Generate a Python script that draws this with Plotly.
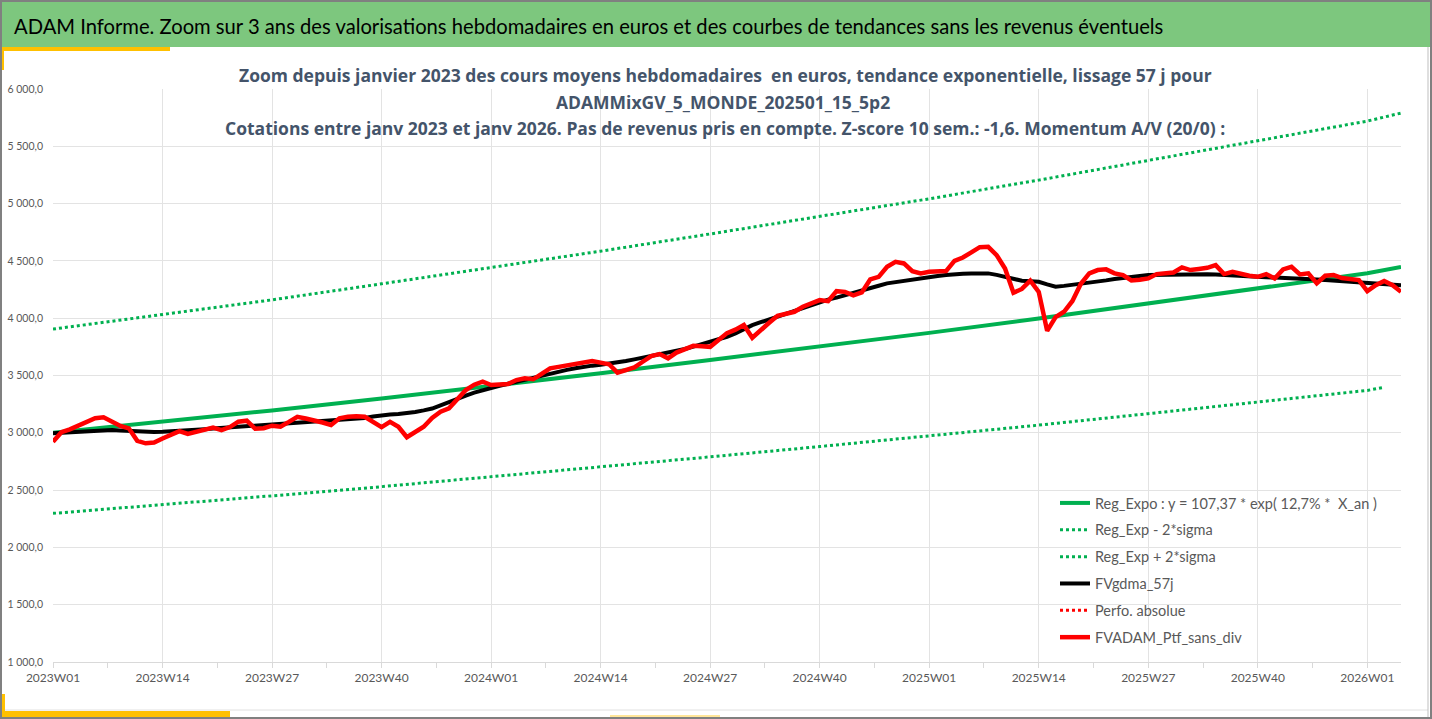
import plotly.graph_objects as go

# semaines 2023W01 .. 2026W05 (2023, 2024, 2025 ont 52 semaines ISO)
weeks = ([f"2023W{w:02d}" for w in range(1, 53)] + [f"2024W{w:02d}" for w in range(1, 53)]
         + [f"2025W{w:02d}" for w in range(1, 53)] + [f"2026W{w:02d}" for w in range(1, 6)])

ptf = [2922, 3005, 3030, 3060, 3095, 3127, 3135, 3095, 3060, 3039,
       2930, 2908, 2915, 2950, 2980, 3015, 2990, 3010, 3030, 3045,
       3024, 3050, 3097, 3106, 3035, 3040, 3062, 3053, 3095, 3140,
       3125, 3110, 3090, 3068, 3127, 3140, 3145, 3140, 3095, 3050,
       3095, 3053, 2961, 3010, 3053, 3130, 3184, 3214, 3300, 3373,
       3420, 3446, 3417, 3420, 3426, 3460, 3475, 3467, 3520, 3563,
       3575, 3590, 3600, 3615, 3627, 3612, 3598, 3525, 3548, 3571,
       3620, 3670, 3687, 3650, 3700, 3730, 3759, 3755, 3750, 3809,
       3870, 3900, 3940, 3829, 3900, 3960, 4021, 4040, 4056, 4100,
       4130, 4158, 4149, 4236, 4230, 4200, 4225, 4338, 4361, 4449,
       4492, 4478, 4410, 4391, 4405, 4408, 4411, 4500, 4530, 4575,
       4620, 4623, 4551, 4434, 4222, 4255, 4327, 4230, 3890, 4010,
       4056, 4150, 4300, 4391, 4420, 4426, 4391, 4376, 4330, 4335,
       4347, 4385, 4395, 4399, 4443, 4420, 4430, 4440, 4463, 4385,
       4405, 4385, 4370, 4361, 4385, 4347, 4426, 4449, 4382, 4391,
       4304, 4370, 4376, 4350, 4340, 4333, 4236, 4288, 4324, 4288,
       4230]

gdma = [2996, 3000, 3008, 3015, 3020, 3024, 3025, 3024, 3020, 3015,
        3010, 3008, 3008, 3010, 3013, 3017, 3022, 3027, 3032, 3037,
        3042, 3048, 3053, 3057, 3061, 3065, 3068, 3073, 3080, 3086,
        3091, 3095, 3098, 3102, 3108, 3115, 3122, 3130, 3142, 3155,
        3160, 3165, 3170, 3182, 3196, 3212, 3240, 3271, 3298, 3325,
        3350, 3373, 3392, 3410, 3428, 3446, 3465, 3483, 3501, 3519,
        3534, 3549, 3563, 3577, 3586, 3594, 3603, 3612, 3626, 3641,
        3655, 3670, 3685, 3700, 3716, 3731, 3752, 3773, 3794, 3815,
        3838, 3868, 3905, 3940, 3965, 3990, 4016, 4042, 4068, 4093,
        4119, 4144, 4162, 4180, 4199, 4217, 4239, 4261, 4283, 4304,
        4316, 4328, 4341, 4353, 4361, 4369, 4377, 4385, 4387, 4389,
        4391, 4391, 4378, 4361, 4344, 4327, 4322, 4318, 4295, 4275,
        4282, 4290, 4298, 4308, 4318, 4330, 4342, 4353, 4361, 4369,
        4376, 4378, 4380, 4383, 4385, 4385, 4384, 4383, 4382, 4377,
        4371, 4366, 4361, 4359, 4357, 4355, 4353, 4349, 4345, 4342,
        4338, 4333, 4328, 4323, 4318, 4315, 4311, 4308, 4304, 4296,
        4288]

# tendance lue tous les trimestres
trend_weeks = ["2023W01", "2023W14", "2023W27", "2023W40", "2024W01", "2024W14", "2024W27",
               "2024W40", "2025W01", "2025W14", "2025W27", "2025W40", "2026W01", "2026W05"]
reg_expo = [3000, 3095, 3195, 3300, 3408, 3520, 3635, 3752, 3872, 3998, 4128, 4258, 4392, 4448]
reg_plus = [3905, 4030, 4160, 4300, 4440, 4585, 4735, 4888, 5042, 5205, 5375, 5545, 5720, 5790]
low_weeks = trend_weeks[:-1] + ["2026W03"]
reg_minus = [2297, 2372, 2450, 2530, 2615, 2700, 2790, 2880, 2972, 3067, 3167, 3267, 3370, 3397]

x_ticks = weeks[::13]
y_ticks = [1000, 1500, 2000, 2500, 3000, 3500, 4000, 4500, 5000, 5500, 6000]
y_labels = [f"{v:,}".replace(",", " ") + ",0" for v in y_ticks]

W, H = 1432, 719
L, R, T, B = 53, 1401, 89, 662


def px(x):
    return (x - L) / (R - L)


def py(y):
    return (B - y) / (B - T)


GREEN = "#00B050"
fig = go.Figure()
fig.add_trace(go.Scatter(x=trend_weeks, y=reg_expo, mode="lines", line=dict(color=GREEN, width=4),
                         name="Reg_Expo : y = 107,37 * exp( 12,7% *\u00a0\u00a0X_an )", legendgroup="a"))
fig.add_trace(go.Scatter(x=low_weeks, y=reg_minus, mode="lines", line=dict(color=GREEN, width=3, dash="dot"),
                         name="Reg_Exp - 2*sigma", legendgroup="b"))
fig.add_trace(go.Scatter(x=trend_weeks, y=reg_plus, mode="lines", line=dict(color=GREEN, width=3, dash="dot"),
                         name="Reg_Exp + 2*sigma", legendgroup="c"))
fig.add_trace(go.Scatter(x=weeks, y=gdma, mode="lines", line=dict(color="black", width=4),
                         name="FVgdma_57j", legendgroup="d"))
fig.add_trace(go.Scatter(x=weeks[:1], y=[None], mode="lines", line=dict(color="#FF0000", width=3, dash="dot"),
                         name="Perfo. absolue", legendgroup="e"))
fig.add_trace(go.Scatter(x=weeks, y=ptf, mode="lines", line=dict(color="#FF0000", width=4.5),
                         name="FVADAM_Ptf_sans_div", legendgroup="f"))
# petites graduations intermédiaires
fig.add_trace(go.Scatter(x=[0], y=[None], xaxis="x2", showlegend=False, hoverinfo="skip"))

grid = "#E3E3E3"
fig.update_layout(
    width=W, height=H,
    margin=dict(l=L, r=W - R, t=T, b=H - B),
    paper_bgcolor="white", plot_bgcolor="white",
    font=dict(family="Lato, Carlito, sans-serif", color="#595959"),
    xaxis=dict(type="category", categoryorder="array", categoryarray=weeks, automargin=False,
               range=[0, len(weeks) - 1], tickvals=x_ticks, showgrid=True, gridcolor=grid,
               showline=True, linecolor="#D9D9D9", linewidth=1, ticks="outside", ticklen=5, tickcolor="#D9D9D9",
               tickfont=dict(size=12, color="#595959"), zeroline=False),
    xaxis2=dict(overlaying="x", anchor="y", side="bottom", range=[0, len(weeks) - 1], automargin=False,
                tickvals=[6.5 + 13 * k for k in range(13)], showticklabels=False, showgrid=False,
                ticks="outside", ticklen=5, tickcolor="#D9D9D9", zeroline=False, showline=False),
    yaxis=dict(range=[1000, 6000], tickvals=y_ticks, ticktext=y_labels, showgrid=True, gridcolor=grid,
               zeroline=False, tickfont=dict(size=10.5, color="#595959"), ticks="", showline=False,
               ticklabelstandoff=9, automargin=False),
    legend=dict(x=px(1055), y=py(487), xanchor="left", yanchor="top", bgcolor="rgba(0,0,0,0)",
                font=dict(size=14.5, color="#595959"), tracegroupgap=5, itemwidth=30),
    showlegend=True,
)

shapes = [
    dict(type="rect", xref="paper", yref="paper", x0=px(2), x1=px(1430), y0=py(2), y1=py(47),
         fillcolor="#7DC77E", line=dict(width=0), layer="below"),
    dict(type="rect", xref="paper", yref="paper", x0=px(0), x1=px(170), y0=py(47), y1=py(51),
         fillcolor="#FFC000", line=dict(width=0)),
    dict(type="rect", xref="paper", yref="paper", x0=px(0), x1=px(4), y0=py(47), y1=py(70),
         fillcolor="#FFC000", line=dict(width=0)),
    dict(type="line", xref="paper", yref="paper", x0=px(0), x1=px(1428), y0=py(710), y1=py(710),
         line=dict(color="#E0E0E0", width=1)),
    dict(type="rect", xref="paper", yref="paper", x0=px(0), x1=px(230), y0=py(711), y1=py(717),
         fillcolor="#FFC000", line=dict(width=0)),
    dict(type="rect", xref="paper", yref="paper", x0=px(0), x1=px(5), y0=py(694), y1=py(717),
         fillcolor="#FFC000", line=dict(width=0)),
    dict(type="rect", xref="paper", yref="paper", x0=px(610), x1=px(720), y0=py(715), y1=py(718),
         fillcolor="#FFE699", line=dict(width=0)),
    dict(type="line", xref="paper", yref="paper", x0=px(1428), x1=px(1428), y0=py(47), y1=py(717),
         line=dict(color="#BFBFBF", width=1)),
    dict(type="rect", xref="paper", yref="paper", x0=px(1), x1=px(1431), y0=py(1), y1=py(718),
         line=dict(color="#808080", width=2)),
]
fig.update_layout(shapes=shapes)

sub = "#44546A"
annotations = [
    dict(text="ADAM Informe. Zoom sur 3 ans des valorisations hebdomadaires en euros et des courbes de tendances sans les revenus éventuels",
         x=px(12), y=py(26), xanchor="left", yanchor="middle", font=dict(size=20.2, color="black")),
    dict(text="<b>Zoom depuis janvier 2023 des cours moyens hebdomadaires \u00a0en euros, tendance exponentielle, lissage 57 j pour</b>",
         x=px(725), y=py(75)),
    dict(text="<b>ADAMMixGV_5_MONDE_202501_15_5p2</b>", x=px(723), y=py(102)),
    dict(text="<b>Cotations entre janv 2023 et janv 2026. Pas de revenus pris en compte. Z-score 10 sem.: -1,6. Momentum A/V (20/0) :</b>",
         x=px(725), y=py(128)),
]
for a in annotations:
    a.update(xref="paper", yref="paper", showarrow=False)
    a.setdefault("xanchor", "center")
    a.setdefault("yanchor", "middle")
    a.setdefault("font", dict(family="Open Sans, sans-serif", size=17.5, color=sub))
fig.update_layout(annotations=annotations)

fig.write_html("out.html", config={"displayModeBar": False},
               post_script="document.body.style.margin='0';document.body.style.overflow='hidden';")
